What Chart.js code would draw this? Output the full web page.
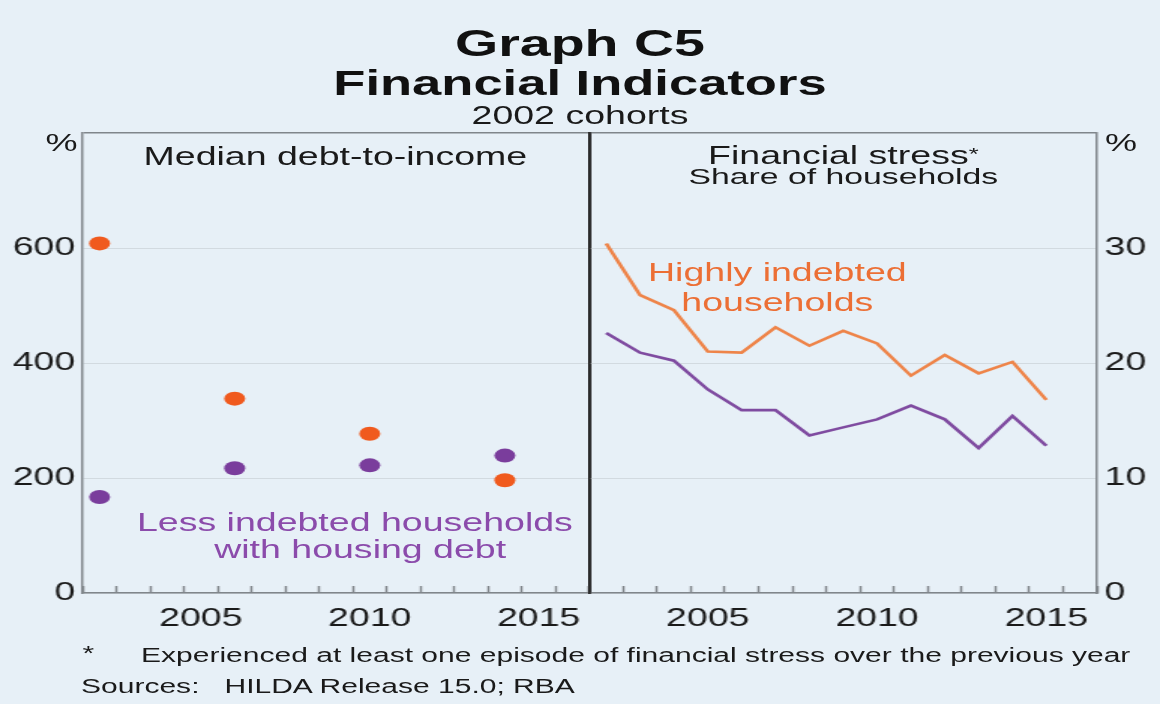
<!DOCTYPE html>
<html><head><meta charset="utf-8">
<script src="https://cdn.jsdelivr.net/npm/chart.js@4.4.1/dist/chart.umd.min.js"></script>
<style>
html,body{margin:0;padding:0;background:#e7f0f7;width:1160px;height:704px;overflow:hidden;}
#stage{position:absolute;left:0;top:0;width:773px;height:704px;transform:scaleX(1.5006);transform-origin:0 0;font-family:"Liberation Sans",Arial,sans-serif;color:#1a1a1a;}
.c{position:absolute;left:0;top:0;width:773px;height:704px;}
.t{position:absolute;white-space:nowrap;transform:translate(-50%,-50%);line-height:1;}
.l{position:absolute;white-space:nowrap;transform:translate(0,-50%);line-height:1;}
</style></head>
<body><div id="stage">
<div class="c"><canvas id="left"></canvas></div>
<div class="c"><canvas id="right"></canvas></div>
<div class="t" style="left:386.5px;top:43px;font-weight:bold;font-size:37px;color:#111;">Graph C5</div>
<div class="t" style="left:386.5px;top:82px;font-weight:bold;font-size:35px;color:#111;">Financial Indicators</div>
<div class="t" style="left:386.5px;top:115px;font-size:25px;">2002 cohorts</div>
<div class="t" style="left:41px;top:143px;font-size:24px;">%</div>
<div class="t" style="left:747px;top:143px;font-size:24px;">%</div>
<div class="t" style="left:223.5px;top:156px;font-size:25px;">Median debt-to-income</div>
<div class="t" style="left:562px;top:155px;font-size:25px;">Financial stress<span style="font-size:17px;vertical-align:4px;">*</span></div>
<div class="t" style="left:562px;top:177px;font-size:22.5px;">Share of households</div>
<div class="t" style="left:518px;top:272px;font-size:25px;color:#ec6f35;">Highly indebted</div>
<div class="t" style="left:518px;top:302px;font-size:25px;color:#ec6f35;">households</div>
<div class="t" style="left:236.5px;top:522px;font-size:25px;color:#8b4bab;">Less indebted households</div>
<div class="t" style="left:240px;top:549px;font-size:25px;color:#8b4bab;">with housing debt</div>
<div class="l" style="left:55px;top:653px;font-size:20px;">*</div>
<div class="l" style="left:94px;top:655px;font-size:20px;">Experienced at least one episode of financial stress over the previous year</div>
<div class="l" style="left:54px;top:686px;font-size:20px;">Sources:&nbsp;&nbsp;&nbsp;HILDA Release 15.0; RBA</div>
</div>
<script>
// ---- data ----
const years = ['2002','2003','2004','2005','2006','2007','2008','2009','2010','2011','2012','2013','2014','2015','2016'];
const dtiYears = ['2002','2006','2010','2014'];
const dtiHigh = [608, 338, 277, 196];
const dtiLess = [167, 217, 222, 239];
const stressYears = ['2002','2003','2004','2005','2006','2007','2008','2009','2010','2011','2012','2013','2014','2015'];
const stressHigh = [30.4, 25.9, 24.6, 21.0, 20.9, 23.1, 21.5, 22.8, 21.7, 18.9, 20.7, 19.1, 20.1, 16.8];
const stressLess = [22.6, 20.9, 20.2, 17.7, 15.9, 15.9, 13.7, 14.4, 15.1, 16.3, 15.1, 12.6, 15.4, 12.8];
const leftTicks = [0, 200, 400, 600, 800];
const rightTicks = [0, 10, 20, 30, 40];

// ---- styles ----
const AXIS = '#80868b', GRID = '#d2dae0', DIV = '#2a2a2a';
const ORANGE_DOT = '#f05a1e', PURPLE_DOT = '#7a3d9c';
const ORANGE_LINE = '#ee8449', PURPLE_LINE = '#7f4ba0';
const FONT = {family: '"Liberation Sans", Arial, sans-serif', size: 25};
const STAGE_W = 773, LEFT_X = 55.1, DIV_X = 392.7, RIGHT_X = 731.1, TOP_Y = 133, BOT_Y = 593, XH = 38;

function xScale() {
  return {
    type: 'category', labels: years, offset: true,
    grid: {offset: true, drawOnChartArea: false, drawTicks: true, tickLength: -7, tickColor: AXIS, tickWidth: 1.5},
    border: {color: AXIS, width: 1.5},
    ticks: {autoSkip: false, maxRotation: 0, padding: 18, color: '#1a1a1a', font: FONT,
      callback: function (v) { const l = this.getLabelForValue(v); return (+l) % 5 === 0 ? l : ''; }},
    afterFit: s => { s.height = XH; }
  };
}
function yScale(pos, ticks, width) {
  const max = ticks[ticks.length - 1];
  return {
    type: 'linear', position: pos, min: 0, max: max,
    afterBuildTicks: s => { s.ticks = ticks.map(v => ({value: v})); },
    grid: {drawTicks: false, color: c => (c.tick && c.tick.value === max) ? AXIS : GRID, lineWidth: c => (c.tick && c.tick.value === max) ? 1.5 : 1},
    border: {color: AXIS, width: 1.5},
    ticks: {padding: 5, color: '#1a1a1a', font: FONT, callback: v => v === max ? '' : String(v)},
    afterFit: s => { s.width = width; }
  };
}
function divider(pos) {
  return {
    type: 'linear', position: pos, min: 0, max: 1, display: true,
    grid: {drawOnChartArea: false, drawTicks: false},
    border: {color: DIV, width: 1.8},
    ticks: {display: false},
    afterFit: s => { s.width = 0; }
  };
}
const common = {
  responsive: true, maintainAspectRatio: false, animation: false, devicePixelRatio: 1,
  plugins: {legend: {display: false}, tooltip: {enabled: false}, title: {display: false}},
  events: []
};

new Chart(document.getElementById('left'), {
  type: 'line',
  data: {datasets: [
    {data: dtiYears.map((y, i) => ({x: y, y: dtiHigh[i]})), showLine: false, pointRadius: 7, pointBackgroundColor: ORANGE_DOT, pointBorderWidth: 0},
    {data: dtiYears.map((y, i) => ({x: y, y: dtiLess[i]})), showLine: false, pointRadius: 7, pointBackgroundColor: PURPLE_DOT, pointBorderWidth: 0}
  ]},
  options: Object.assign({}, common, {
    layout: {padding: {left: 0, top: TOP_Y, right: STAGE_W - DIV_X, bottom: 704 - BOT_Y - XH}},
    scales: {x: xScale(), y: yScale('left', leftTicks, LEFT_X), yd: divider('right')}
  })
});

new Chart(document.getElementById('right'), {
  type: 'line',
  data: {labels: years, datasets: [
    {data: stressYears.map((y, i) => ({x: y, y: stressHigh[i]})), borderColor: ORANGE_LINE, borderWidth: 2.6, pointRadius: 0, tension: 0},
    {data: stressYears.map((y, i) => ({x: y, y: stressLess[i]})), borderColor: PURPLE_LINE, borderWidth: 2.6, pointRadius: 0, tension: 0}
  ]},
  options: Object.assign({}, common, {
    layout: {padding: {left: DIV_X, top: TOP_Y, right: 0, bottom: 704 - BOT_Y - XH}},
    scales: {x: xScale(), y: yScale('right', rightTicks, STAGE_W - RIGHT_X), yd: divider('left')}
  })
});
</script>
</body></html>
